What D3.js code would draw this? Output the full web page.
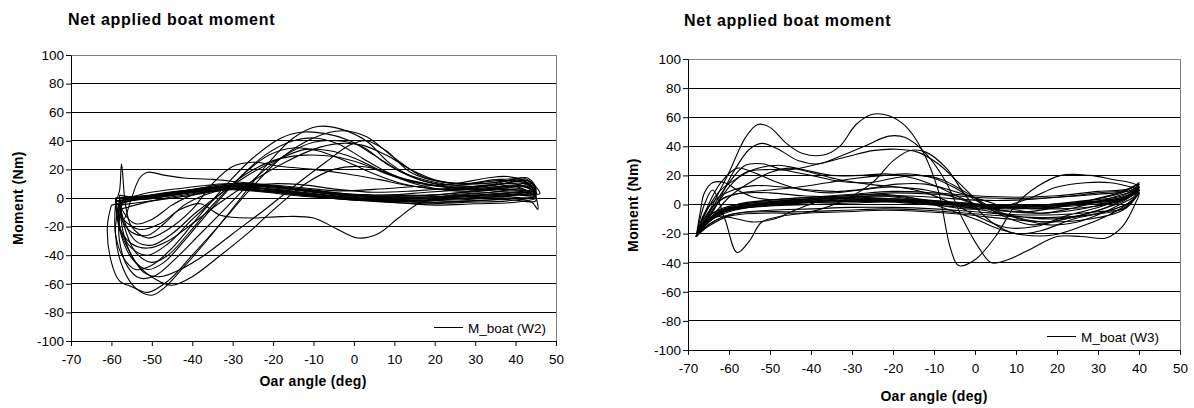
<!DOCTYPE html>
<html>
<head>
<meta charset="utf-8">
<script src="https://cdn.jsdelivr.net/npm/d3@7"></script>
<style>
  body { margin: 0; background: #fff; }
  text { font-family: Arial, "Liberation Sans", sans-serif; fill: #000; }
</style>
</head>
<body>
<svg id="chart" width="1194" height="408"></svg>
<script>
// tick labels
const angleTicks = [-70, -60, -50, -40, -30, -20, -10, 0, 10, 20, 30, 40, 50]
const momentTicks = [-100, -80, -60, -40, -20, 0, 20, 40, 60, 80, 100]

// W2 strokes: [oar angle, moment] pairs, drive then recovery
const w2Strokes = [
  [[-58,-2],[-59,-25],[-57,-50],[-54,-63],[-50,-68],[-47,-63],[-42,-48],[-35,-25],[-28,0],[-21,25],[-15,42],[-9,50],[-3,48],[3,40],[9,24],[16,13],[25,9],[35,12],[42,11],[45,4],[40,7],[30,5],[20,2],[10,1],[0,2],[-10,5],[-20,8],[-30,10],[-40,6],[-50,2],[-58,-2]],
  [[-60,-5],[-61,-20],[-60,-45],[-58,-58],[-55,-62],[-51,-66],[-46,-58],[-40,-40],[-33,-18],[-26,5],[-18,28],[-10,42],[-3,47],[3,43],[10,28],[17,15],[26,10],[36,13],[43,12],[45,6],[41,3],[32,2],[22,0],[12,-1],[2,0],[-8,2],[-18,5],[-28,7],[-40,4],[-50,1],[-60,-5]],
  [[-57,0],[-58,-20],[-55,-40],[-52,-52],[-48,-55],[-43,-50],[-37,-40],[-30,-25],[-22,-8],[-14,10],[-7,25],[-1,37],[3,40],[8,33],[14,18],[22,11],[32,10],[40,12],[44,8],[45,2],[38,-2],[28,-3],[18,-4],[8,-3],[-2,-1],[-12,2],[-22,5],[-32,8],[-42,5],[-52,1],[-57,0]],
  [[-58,-3],[-58,-30],[-56,-48],[-53,-56],[-49,-54],[-44,-42],[-38,-25],[-31,-5],[-24,15],[-17,30],[-10,39],[-4,40],[2,36],[8,24],[15,14],[24,8],[34,9],[42,10],[45,4],[40,2],[30,0],[20,-1],[10,-2],[0,0],[-10,3],[-20,6],[-30,8],[-40,4],[-50,0],[-58,-3]],
  [[-59,0],[-58,-22],[-55,-42],[-51,-50],[-47,-45],[-42,-30],[-36,-10],[-29,12],[-22,30],[-15,40],[-10,42],[-4,38],[2,28],[9,17],[17,10],[27,7],[37,10],[43,12],[46,3],[40,5],[30,3],[20,1],[10,0],[0,1],[-10,4],[-20,8],[-30,9],[-40,5],[-50,2],[-59,0]],
  [[-58,2],[-57,-18],[-54,-38],[-50,-45],[-46,-40],[-41,-25],[-35,-5],[-28,15],[-21,30],[-15,35],[-9,33],[-3,27],[4,18],[12,10],[22,6],[32,7],[40,9],[44,6],[45,0],[38,1],[28,0],[18,-2],[8,-1],[-2,0],[-12,2],[-22,5],[-32,7],[-42,4],[-52,0],[-58,2]],
  [[-59,-2],[-58,-20],[-55,-35],[-51,-40],[-46,-32],[-40,-15],[-33,3],[-26,18],[-19,27],[-12,30],[-5,29],[2,24],[9,16],[18,10],[28,6],[38,8],[44,10],[45,2],[38,3],[28,1],[18,0],[8,1],[-2,2],[-12,5],[-22,8],[-32,8],[-42,4],[-52,0],[-59,-2]],
  [[-58,-5],[-57,-15],[-53,-22],[-48,-18],[-43,-8],[-38,-4],[-33,-12],[-25,-14],[-18,-13],[-10,-14],[-4,-22],[1,-28],[6,-25],[11,-14],[16,-4],[24,2],[34,4],[42,6],[45,0],[40,-3],[30,-4],[20,-5],[10,-3],[0,-1],[-10,1],[-20,4],[-30,6],[-40,2],[-50,-2],[-58,-5]],
  [[-58,0],[-57,-25],[-54,-45],[-49,-57],[-45,-61],[-40,-55],[-33,-40],[-26,-24],[-19,-6],[-12,10],[-5,20],[2,22],[8,18],[15,10],[25,5],[35,6],[43,8],[45,-2],[38,-1],[28,-2],[18,-3],[8,-2],[-2,-1],[-12,1],[-22,4],[-32,6],[-42,3],[-52,-1],[-58,0]],
  [[-59,-3],[-58,5],[-57.5,24],[-56.5,-5],[-55,-20],[-51,-28],[-46,-22],[-40,-8],[-35,10],[-30,22],[-25,25],[-18,22],[-10,20],[-2,17],[6,13],[15,8],[25,6],[35,9],[42,12],[45,5],[38,6],[28,4],[18,2],[8,2],[-2,3],[-12,6],[-22,9],[-32,10],[-42,7],[-52,3],[-59,-3]],
  [[-58,-8],[-57,-15],[-55,0],[-53,14],[-51,18],[-47,16],[-42,14],[-35,13],[-28,11],[-20,9],[-12,7],[-4,5],[5,6],[15,8],[25,10],[33,14],[38,15],[42,12],[45,3],[40,2],[30,0],[20,-1],[10,-2],[0,-1],[-10,2],[-20,5],[-30,6],[-40,3],[-50,-2],[-58,-8]],
  [[-59,0],[-58,-12],[-55,-24],[-51,-26],[-47,-18],[-42,-5],[-36,3],[-28,8],[-20,10],[-12,9],[-4,6],[5,4],[15,5],[25,7],[35,10],[42,14],[45,7],[40,4],[30,2],[20,0],[10,-1],[0,0],[-10,3],[-20,6],[-30,8],[-40,5],[-50,1],[-59,0]],
  [[-58,-4],[-58,-20],[-55,-32],[-51,-35],[-46,-30],[-40,-18],[-33,-3],[-25,12],[-17,25],[-10,34],[-4,38],[2,37],[8,30],[14,20],[21,12],[30,10],[38,12],[43,14],[45,6],[40,3],[30,1],[20,0],[10,0],[0,1],[-10,4],[-20,7],[-30,9],[-40,5],[-50,1],[-58,-4]],
  [[-59,-5],[-59,-25],[-57,-42],[-54,-50],[-50,-47],[-45,-35],[-39,-15],[-32,8],[-25,28],[-18,42],[-13,46],[-7,45],[-1,40],[5,30],[12,18],[20,11],[30,8],[40,10],[45,3],[40,4],[30,2],[20,1],[10,0],[0,2],[-10,5],[-20,8],[-30,10],[-40,6],[-50,2],[-59,-5]],
  [[-58,-2],[-57,-15],[-54,-30],[-50,-33],[-45,-25],[-39,-10],[-32,5],[-25,18],[-18,28],[-12,34],[-6,33],[0,28],[6,20],[13,12],[22,8],[32,6],[40,8],[45,1],[40,0],[30,-2],[20,-3],[10,-2],[0,0],[-10,3],[-20,6],[-30,8],[-40,4],[-50,0],[-58,-2]],
  [[-58,0],[-57,-10],[-54,-18],[-50,-15],[-45,-5],[-40,2],[-32,6],[-22,8],[-12,6],[-2,3],[8,2],[18,4],[28,6],[38,8],[44,6],[45.5,-8],[44,-3],[38,0],[28,-1],[18,-2],[8,-2],[-2,-1],[-12,2],[-22,5],[-32,7],[-42,4],[-52,0],[-58,0]]
]

// W3 strokes
const w3Strokes = [
  [[-68,-22],[-64,0],[-60,22],[-56,46],[-53,55],[-50,53],[-46,42],[-42,35],[-37,34],[-33,40],[-29,55],[-25,62],[-21,61],[-17,54],[-13,38],[-9,10],[-6,-30],[-4,-42],[0,-38],[5,-22],[10,0],[15,12],[21,20],[28,20],[34,17],[38,15],[40,12],[37,6],[30,2],[20,-1],[10,-2],[0,-1],[-10,1],[-20,3],[-30,3],[-40,2],[-50,0],[-58,-2],[-64,-6],[-68,-22]],
  [[-68,-22],[-63,0],[-59,22],[-55,38],[-52,42],[-48,38],[-43,30],[-38,28],[-33,33],[-27,40],[-21,47],[-17,46],[-12,35],[-7,15],[-3,-10],[1,-30],[4,-40],[8,-38],[14,-30],[20,-22],[26,-22],[32,-23],[36,-15],[39,0],[40,8],[36,3],[30,-1],[20,-3],[10,-2],[0,0],[-10,2],[-20,2],[-30,1],[-40,0],[-50,-1],[-58,-3],[-64,-8],[-68,-22]],
  [[-68,-22],[-66,0],[-64,10],[-61,-10],[-58,-33],[-55,-25],[-52,-12],[-47,-8],[-40,-5],[-32,3],[-25,15],[-20,30],[-16,37],[-12,36],[-7,25],[-2,5],[4,-12],[10,-20],[16,-18],[24,-10],[32,-5],[38,2],[40,8],[36,4],[28,1],[18,-1],[8,-1],[-2,1],[-12,3],[-22,4],[-32,3],[-42,2],[-52,0],[-60,-4],[-65,-10],[-68,-22]],
  [[-68,-22],[-64,-5],[-60,12],[-56,22],[-51,24],[-45,24],[-38,28],[-31,33],[-25,37],[-19,38],[-14,36],[-9,28],[-4,15],[1,2],[7,-8],[14,-14],[22,-10],[30,-4],[36,2],[40,10],[36,5],[28,2],[18,0],[8,-1],[-2,0],[-12,2],[-22,4],[-32,4],[-42,3],[-52,1],[-60,-3],[-65,-12],[-68,-22]],
  [[-68,-22],[-64,-2],[-60,15],[-56,27],[-52,28],[-47,24],[-40,20],[-33,16],[-26,15],[-20,18],[-14,20],[-8,17],[-2,8],[5,-3],[12,-5],[20,-2],[28,3],[35,8],[40,14],[36,6],[28,3],[18,0],[8,-2],[-2,-1],[-12,1],[-22,3],[-32,2],[-42,1],[-52,-1],[-60,-5],[-65,-12],[-68,-22]],
  [[-68,-22],[-65,0],[-62,15],[-58,25],[-54,22],[-48,15],[-42,10],[-35,8],[-28,10],[-20,12],[-12,8],[-5,0],[2,-10],[8,-16],[15,-15],[22,-8],[30,-2],[36,4],[40,10],[37,-2],[30,-5],[20,-7],[10,-7],[0,-5],[-10,-3],[-20,-2],[-30,-2],[-40,-3],[-50,-4],[-58,-6],[-64,-12],[-68,-22]],
  [[-68,-22],[-65,-8],[-62,3],[-57,8],[-50,10],[-43,12],[-36,15],[-29,18],[-22,20],[-16,21],[-10,18],[-4,10],[2,0],[9,-8],[17,-12],[25,-8],[32,-2],[37,5],[40,12],[37,9],[30,7],[20,5],[10,4],[0,5],[-10,7],[-20,8],[-30,6],[-40,5],[-50,3],[-58,0],[-64,-8],[-68,-22]],
  [[-68,-22],[-66,-12],[-62,-8],[-58,-10],[-54,-12],[-49,-10],[-44,-4],[-38,2],[-30,5],[-22,6],[-14,4],[-6,0],[2,-4],[10,-8],[18,-10],[26,-8],[33,-4],[38,2],[40,8],[36,-3],[28,-7],[18,-9],[8,-8],[-2,-6],[-12,-4],[-22,-3],[-32,-4],[-42,-5],[-52,-5],[-60,-7],[-65,-14],[-68,-22]],
  [[-68,-22],[-65,-5],[-61,5],[-56,8],[-50,8],[-42,6],[-34,5],[-26,3],[-18,2],[-10,0],[-2,-3],[6,-2],[14,5],[20,12],[27,15],[33,15],[38,12],[40,10],[37,5],[30,2],[20,0],[10,-1],[0,0],[-10,2],[-20,4],[-30,5],[-40,4],[-50,2],[-58,0],[-64,-6],[-68,-22]],
  [[-68,-22],[-67,-5],[-66,8],[-64,15],[-61,15],[-58,10],[-54,5],[-48,3],[-40,4],[-32,5],[-24,6],[-16,4],[-8,2],[0,0],[8,-2],[16,-3],[24,0],[30,4],[36,8],[40,15],[38,11],[30,9],[20,6],[10,5],[0,6],[-10,8],[-20,9],[-30,7],[-40,5],[-50,3],[-58,-1],[-64,-10],[-68,-22]],
  [[-68,-22],[-64,-8],[-60,5],[-55,15],[-50,22],[-45,25],[-40,22],[-33,17],[-26,14],[-19,12],[-12,10],[-5,5],[2,-2],[9,-5],[16,-6],[24,-4],[31,0],[37,5],[40,10],[36,3],[28,0],[18,-2],[8,-3],[-2,-2],[-12,0],[-22,2],[-32,2],[-42,1],[-52,-1],[-60,-4],[-65,-11],[-68,-22]],
  [[-68,-22],[-65,-10],[-61,-3],[-55,0],[-48,2],[-40,4],[-32,6],[-24,7],[-16,5],[-8,-2],[0,-10],[6,-17],[12,-21],[19,-21],[26,-15],[32,-8],[37,0],[40,8],[36,-4],[28,-10],[18,-12],[8,-10],[-2,-7],[-12,-5],[-22,-4],[-32,-5],[-42,-6],[-52,-6],[-60,-8],[-65,-15],[-68,-22]],
  [[-68,-22],[-65,-2],[-62,10],[-58,18],[-54,24],[-48,27],[-42,24],[-35,20],[-28,20],[-21,21],[-15,18],[-9,12],[-3,4],[4,-4],[11,-10],[18,-14],[25,-12],[31,-6],[36,1],[39,6],[40,12],[36,4],[28,1],[18,-1],[8,-2],[-2,-1],[-12,1],[-22,3],[-32,3],[-42,2],[-52,0],[-60,-3],[-65,-10],[-68,-22]],
  [[-68,-22],[-66,-6],[-63,4],[-59,10],[-54,13],[-47,12],[-40,10],[-33,9],[-26,11],[-19,14],[-12,14],[-5,9],[2,3],[9,-3],[16,-6],[23,-3],[30,2],[35,6],[39,10],[40,14],[37,10],[30,8],[20,5],[10,3],[0,3],[-10,5],[-20,6],[-30,5],[-40,3],[-50,1],[-58,-2],[-64,-9],[-68,-22]]
]

const svg = d3.select("#chart")

function drawPanel(opts) {
  const { left, top, width, height, strokes, legend, legendBox } = opts
  const g = svg.append("g").attr("transform", `translate(${left}, ${top})`)

  const x = d3.scaleLinear().domain([-70, 50]).range([0, width])
  const y = d3.scaleLinear().domain([-100, 100]).range([height, 0])

  // gridlines
  g.selectAll(".grid")
    .data(momentTicks.filter(d => d !== -100))
    .join("line")
    .attr("x1", 0).attr("x2", width)
    .attr("y1", d => y(d)).attr("y2", d => y(d))
    .attr("stroke", d => d === 100 ? "#808080" : "#000")
    .attr("stroke-width", 1)
    .attr("shape-rendering", "crispEdges")

  // right border
  g.append("line")
    .attr("x1", width).attr("x2", width)
    .attr("y1", 0).attr("y2", height)
    .attr("stroke", "#808080")
    .attr("shape-rendering", "crispEdges")

  const line = d3.line()
    .x(d => x(d[0]))
    .y(d => y(d[1]))
    .curve(d3.curveCatmullRom.alpha(0.5))

  g.selectAll(".stroke")
    .data(strokes)
    .join("path")
    .attr("d", line)
    .attr("fill", "none")
    .attr("stroke", "#000")
    .attr("stroke-width", 1.1)

  // legend (white box over the lowest gridlines)
  g.append("rect")
    .attr("x", legendBox[0]).attr("y", legendBox[1])
    .attr("width", legendBox[2]).attr("height", legendBox[3])
    .attr("fill", "#fff")
  const ly = legendBox[1] + legendBox[3] / 2 + 1
  g.append("line")
    .attr("x1", legendBox[0] + 6).attr("x2", legendBox[0] + 35)
    .attr("y1", ly).attr("y2", ly)
    .attr("stroke", "#000")
  g.append("text")
    .attr("x", legendBox[0] + 40).attr("y", ly + 5)
    .attr("font-size", 13.5)
    .text(legend)

  const xAxis = d3.axisBottom(x).tickValues(angleTicks).tickFormat(d => String(d)).tickSize(5).tickSizeOuter(0)
  const yAxis = d3.axisLeft(y).tickValues(momentTicks).tickFormat(d => String(d)).tickSize(5).tickSizeOuter(0)

  const xg = g.append("g")
    .attr("transform", `translate(0, ${height})`)
    .call(xAxis)
  const yg = g.append("g").call(yAxis)

  for (const ax of [xg, yg]) {
    ax.select(".domain").attr("stroke", "#000")
    ax.selectAll(".tick line").attr("stroke", "#000")
    ax.selectAll("text")
      .attr("font-size", 13.5)
      .attr("font-family", "Arial, 'Liberation Sans', sans-serif")
      .attr("fill", "#000")
  }
  xg.selectAll("text").attr("dy", "1.1em")
  yg.selectAll("text").attr("x", -7)

  return g
}

drawPanel({
  left: 71, top: 55, width: 485, height: 286,
  strokes: w2Strokes, legend: "M_boat (W2)",
  legendBox: [357, 258, 126, 27]
})
drawPanel({
  left: 688, top: 59, width: 492, height: 291,
  strokes: w3Strokes, legend: "M_boat (W3)",
  legendBox: [353, 263, 136, 27]
})

// titles and axis labels
const titles = [
  { x: 68, y: 25, label: "Net applied boat moment" },
  { x: 684, y: 26, label: "Net applied boat moment" }
]
svg.selectAll(".title")
  .data(titles)
  .join("text")
  .attr("x", d => d.x).attr("y", d => d.y)
  .attr("font-size", 16)
  .attr("font-weight", "bold")
  .attr("letter-spacing", 0.7)
  .text(d => d.label)

svg.append("text")
  .attr("transform", "translate(23, 198) rotate(-90)")
  .attr("text-anchor", "middle")
  .attr("font-size", 14).attr("font-weight", "bold")
  .attr("letter-spacing", 0.4)
  .text("Moment (Nm)")
svg.append("text")
  .attr("transform", "translate(638, 205) rotate(-90)")
  .attr("text-anchor", "middle")
  .attr("font-size", 14).attr("font-weight", "bold")
  .attr("letter-spacing", 0.4)
  .text("Moment (Nm)")

svg.append("text")
  .attr("x", 313).attr("y", 386)
  .attr("text-anchor", "middle")
  .attr("font-size", 14).attr("font-weight", "bold")
  .attr("letter-spacing", 0.3)
  .text("Oar angle (deg)")
svg.append("text")
  .attr("x", 934).attr("y", 401)
  .attr("text-anchor", "middle")
  .attr("font-size", 14).attr("font-weight", "bold")
  .attr("letter-spacing", 0.3)
  .text("Oar angle (deg)")
</script>
</body>
</html>
